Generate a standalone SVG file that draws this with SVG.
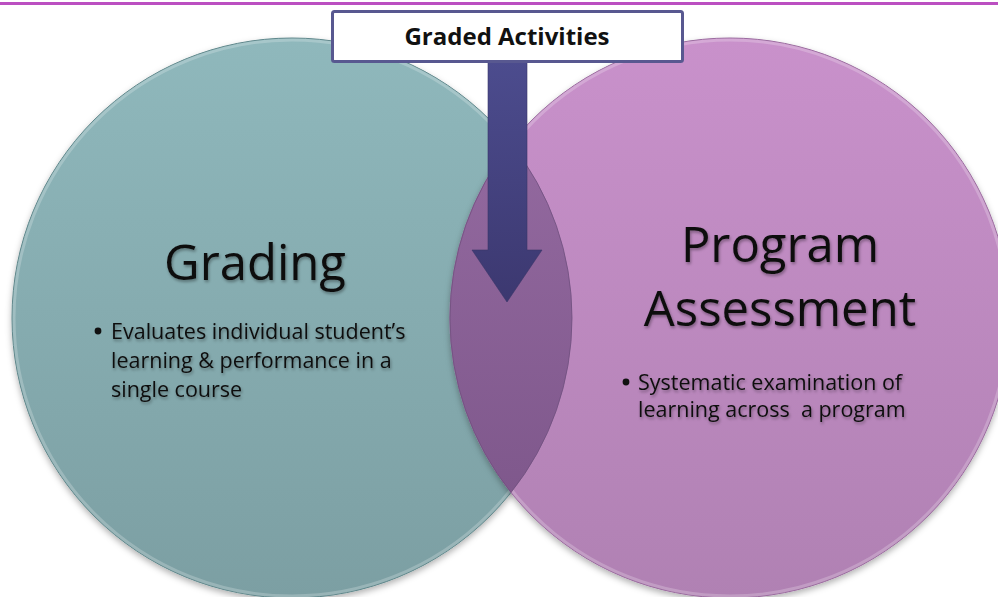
<svg xmlns="http://www.w3.org/2000/svg" width="998" height="597" viewBox="0 0 998 597">
  <defs>
    <linearGradient id="tealGrad" x1="0" y1="0" x2="0" y2="1">
      <stop offset="0" stop-color="#8fb8bc"/>
      <stop offset="1" stop-color="#7c9fa3"/>
    </linearGradient>
    <linearGradient id="pinkGrad" x1="0" y1="0" x2="0" y2="1">
      <stop offset="0" stop-color="#c991cb"/>
      <stop offset="1" stop-color="#b081b3"/>
    </linearGradient>
    <linearGradient id="lensGrad" x1="0" y1="0" x2="0" y2="1">
      <stop offset="0" stop-color="#93699f"/>
      <stop offset="1" stop-color="#7f588c"/>
    </linearGradient>
    <linearGradient id="arrowGrad" x1="0" y1="0" x2="0" y2="1">
      <stop offset="0" stop-color="#4c4c8e"/>
      <stop offset="1" stop-color="#3c3870"/>
    </linearGradient>
    <filter id="shadow" x="-10%" y="-10%" width="120%" height="125%">
      <feDropShadow dx="0" dy="3" stdDeviation="3" flood-color="#000" flood-opacity="0.3"/>
    </filter>
    <filter id="textShadow" x="-10%" y="-20%" width="120%" height="150%">
      <feDropShadow dx="1" dy="2" stdDeviation="1.5" flood-color="#000" flood-opacity="0.35"/>
    </filter>
  </defs>
  <style>
    .title { font-family: "Open Sans", "Liberation Sans", sans-serif; font-size: 49px; fill: #111; text-anchor: middle; filter: url(#textShadow); }
    .body { font-family: "Open Sans", "Liberation Sans", sans-serif; font-size: 21.5px; fill: #111; white-space: pre; filter: url(#textShadow); }
    .label { font-family: "Open Sans", "Liberation Sans", sans-serif; font-size: 24px; font-weight: bold; fill: #111; text-anchor: middle; }
    .rim { fill: none; stroke: #ffffff; stroke-opacity: 0.22; stroke-width: 3; }
  </style>

  <rect x="0" y="2" width="998" height="3" fill="#bb4fc1"/>

  <g id="grading">
    <circle cx="292" cy="318" r="280" fill="url(#tealGrad)" stroke="#5f878b" stroke-width="1" filter="url(#shadow)"/>
    <circle class="rim" cx="292" cy="318" r="278"/>
    <text class="title" x="255" y="280">Grading</text>
    <circle cx="98" cy="331" r="3.4" fill="#111"/>
    <text class="body" x="111" y="339">Evaluates individual student’s</text>
    <text class="body" x="111" y="368">learning &amp; performance in a</text>
    <text class="body" x="111" y="397">single course</text>
  </g>

  <g id="program-assessment">
    <circle cx="730" cy="318" r="280" fill="url(#pinkGrad)" stroke="#9a6a9e" stroke-width="1" filter="url(#shadow)"/>
    <circle class="rim" cx="730" cy="318" r="278"/>
    <text class="title" x="780" y="262">Program</text>
    <text class="title" x="780" y="326">Assessment</text>
    <circle cx="626" cy="382" r="3.4" fill="#111"/>
    <text class="body" x="638" y="390">Systematic examination of</text>
    <text class="body" x="638" y="417">learning across  a program</text>
  </g>

  <g id="overlap">
    <path d="M511,143.5 A280,280 0 0 0 511,492.5 A280,280 0 0 0 511,143.5 Z" fill="url(#lensGrad)" stroke="#6e4f7e" stroke-width="0.8"/>
  </g>

  <g id="connectors">
    <path d="M488,60 L527,60 L527,250 L542,250 L507,302 L472,250 L488,250 Z" fill="url(#arrowGrad)" stroke="#3a3668" stroke-width="0.6"/>
  </g>

  <g id="graded-activities">
    <rect x="332.5" y="11.5" width="350" height="50" rx="2" fill="#ffffff" stroke="#585890" stroke-width="3"/>
    <text class="label" x="507" y="45">Graded Activities</text>
  </g>
</svg>
